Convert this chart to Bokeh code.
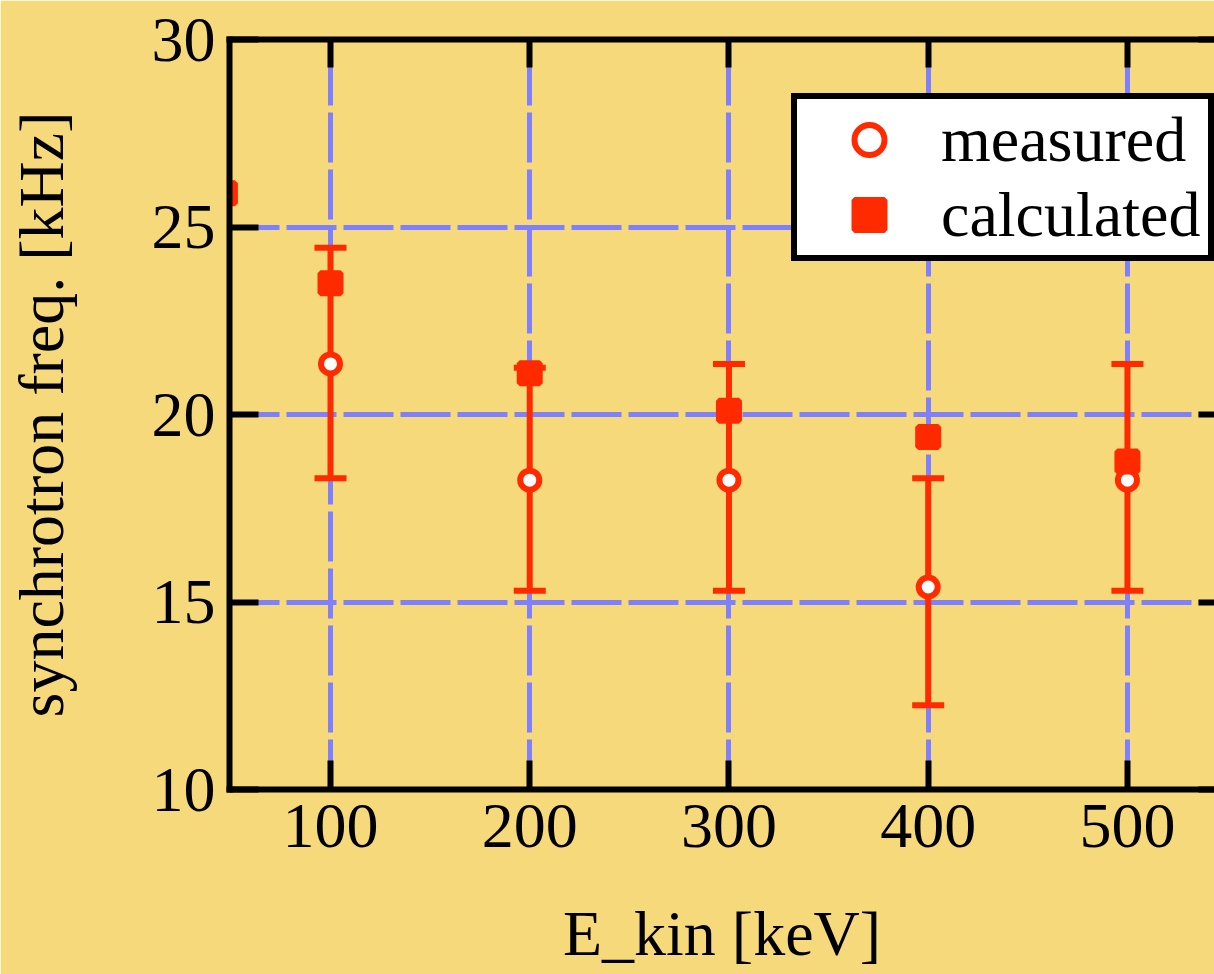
from bokeh.plotting import figure
from bokeh.models import (ColumnDataSource, FixedTicker, LinearAxis, Range1d,
                          Legend, LegendItem)
from bokeh.embed import file_html
from bokeh.resources import INLINE

# ---- data ----
energy_meas = [100, 200, 300, 400, 500]
freq_meas = [21.35, 18.25, 18.25, 15.4, 18.25]
err_low = [18.3, 15.3, 15.3, 12.25, 15.3]
err_high = [24.45, 21.25, 21.35, 18.3, 21.35]

energy_calc = [47, 100, 200, 300, 400, 500]
freq_calc = [25.9, 23.5, 21.1, 20.1, 19.4, 18.75]

x_ticks = [100, 200, 300, 400, 500]
y_ticks = [10, 15, 20, 25, 30]

FONT = "Liberation Serif"
RED = "#FF2A00"
BG = "#F6D97B"
GRID = "#7F80FF"

meas_src = ColumnDataSource(dict(x=energy_meas, y=freq_meas, lo=err_low, hi=err_high))
calc_src = ColumnDataSource(dict(x=energy_calc, y=freq_calc))

p = figure(width=1214, height=974,
           x_range=Range1d(49.3, 543.7), y_range=Range1d(10, 30),
           output_backend="svg", toolbar_location=None,
           background_fill_color=BG, border_fill_color=BG,
           min_border_left=229, min_border_right=0,
           min_border_top=39, min_border_bottom=185)
p.outline_line_color = None

above = LinearAxis()
right = LinearAxis()
p.add_layout(above, "above")
p.add_layout(right, "right")

bottom = p.below[0]
left = p.left[0]


def style_axis(ax, ticks, tick_in, show_labels):
    ax.ticker = FixedTicker(ticks=ticks)
    ax.axis_line_width = 6
    ax.axis_line_color = "black"
    ax.axis_line_cap = "square"
    ax.major_tick_in = tick_in
    ax.major_tick_out = 0
    ax.major_tick_line_width = 6
    ax.major_tick_line_color = "black"
    ax.minor_tick_line_color = None
    ax.major_label_text_font = FONT
    ax.major_label_text_color = "black"
    if show_labels:
        ax.major_label_text_font_size = "64px"
    else:
        ax.major_label_overrides = {t: "" for t in ticks}
        ax.major_label_text_font_size = "10px"
        ax.major_label_standoff = 0


style_axis(bottom, x_ticks, 29, True)
style_axis(above, x_ticks, 28, False)
style_axis(left, y_ticks, 29, True)
style_axis(right, y_ticks, 16, False)
right.axis_line_color = None

bottom.major_label_standoff = 15
left.major_label_standoff = 14

bottom.axis_label = "E_kin [keV]"
left.axis_label = "synchrotron freq. [kHz]"
for ax, st in ((bottom, 48), (left, 72)):
    ax.axis_label_text_font = FONT
    ax.axis_label_text_font_size = "64px"
    ax.axis_label_text_font_style = "normal"
    ax.axis_label_text_color = "black"
    ax.axis_label_standoff = st
bottom.axis_label_text_line_height = 1.0

p.xgrid.ticker = FixedTicker(ticks=x_ticks)
p.ygrid.ticker = FixedTicker(ticks=y_ticks)
for g in (p.xgrid, p.ygrid):
    g.grid_line_color = GRID
    g.grid_line_width = 5
    g.grid_line_dash = "50 7"

# error bars
p.segment(x0="x", y0="lo", x1="x", y1="hi", source=meas_src,
          line_color=RED, line_width=6)
p.scatter(x="x", y="lo", source=meas_src, marker="dash", size=32,
          line_color=RED, line_width=6)
p.scatter(x="x", y="hi", source=meas_src, marker="dash", size=32,
          line_color=RED, line_width=6)

r_meas = p.scatter(x="x", y="y", source=meas_src, marker="circle", size=19,
                   fill_color="white", line_color=RED, line_width=6)
r_calc = p.scatter(x="x", y="y", source=calc_src, marker="square", size=20,
                   fill_color=RED, line_color=RED, line_width=6)

legend = Legend(items=[LegendItem(label="measured", renderers=[r_meas]),
                       LegendItem(label="calculated", renderers=[r_calc])],
                location=(562, 528), orientation="vertical",
                glyph_width=144, glyph_height=75, label_standoff=0,
                label_width=267, label_height=20,
                padding=dict(left=0, right=0, top=3, bottom=3),
                spacing=0, margin=0,
                border_line_color="black", border_line_width=6,
                border_line_alpha=1,
                background_fill_color="white", background_fill_alpha=1,
                label_text_font=FONT, label_text_font_size="64px",
                label_text_line_height=1.0,
                label_text_color="black")
p.add_layout(legend, "center")

open("out.html", "w").write(file_html(p, INLINE))
